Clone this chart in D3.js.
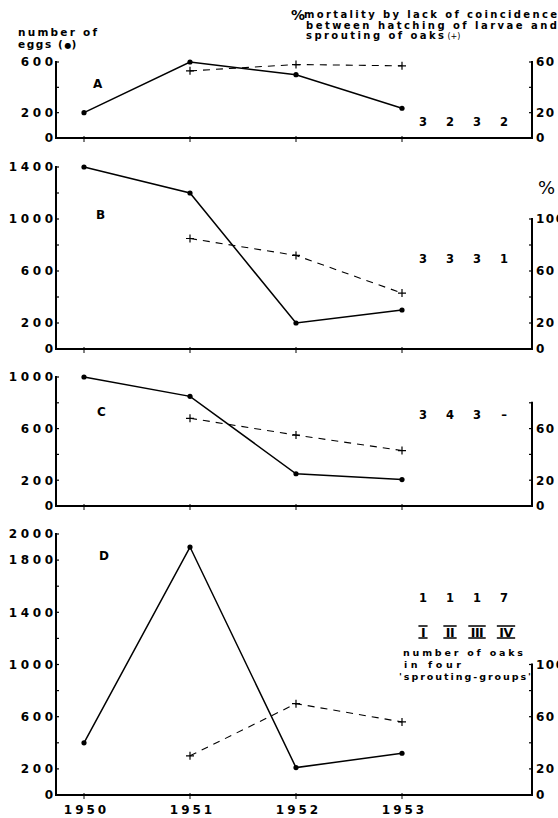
<!DOCTYPE html>
<html><head><meta charset="utf-8">
<script src="https://cdn.jsdelivr.net/npm/d3@7"></script>
<style>
body{margin:0;background:#fff}
svg{display:block}
text{fill:#000;font-family:"DejaVu Sans",sans-serif}
</style>
</head><body>
<svg id="chart" width="558" height="818"></svg>
<script>
// Years on the shared horizontal axis
const years = [1950, 1951, 1952, 1953];
// Mortality (+) was only measured from 1951 on
const mortYears = [1951, 1952, 1953];

// Number of eggs (●) per oak group
const eggsA = [200, 600, 500, 235];
const eggsB = [1400, 1200, 200, 300];
const eggsC = [1000, 850, 250, 205];
const eggsD = [400, 1900, 210, 320];

// % mortality by lack of coincidence (+)
const mortA = [53, 58, 57];
const mortB = [85, 72, 43];
const mortC = [68, 55, 43];
const mortD = [30, 70, 56];

// Number of oaks in each of the four sprouting groups
const sproutGroups = ["I", "II", "III", "IV"];
const oaksA = ["3", "2", "3", "2"];
const oaksB = ["3", "3", "3", "1"];
const oaksC = ["3", "4", "3", "\u2013"];
const oaksD = ["1", "1", "1", "7"];

// Axis extents and labelled ticks
const eggMaxA = 600,  eggLabelsA = [0, 200, 600];
const eggMaxB = 1400, eggLabelsB = [0, 200, 600, 1000, 1400];
const eggMaxC = 1000, eggLabelsC = [0, 200, 600, 1000];
const eggMaxD = 2000, eggLabelsD = [0, 200, 600, 1000, 1400, 1800, 2000];
const mortMaxA = 60,  mortLabelsA = [0, 20, 60];
const mortMaxB = 100, mortLabelsB = [0, 20, 60, 100];
const mortMaxC = 80,  mortLabelsC = [0, 20, 60];
const mortMaxD = 100, mortLabelsD = [0, 20, 60, 100];

const panels = [
  {name: "A", top: 62,  base: 138, eggMax: eggMaxA, eggLabels: eggLabelsA, mortMax: mortMaxA, mortLabels: mortLabelsA, eggs: eggsA, mort: mortA, oaks: oaksA, oaksY: 122, letter: [93, 84]},
  {name: "B", top: 167, base: 349, eggMax: eggMaxB, eggLabels: eggLabelsB, mortMax: mortMaxB, mortLabels: mortLabelsB, eggs: eggsB, mort: mortB, oaks: oaksB, oaksY: 259, letter: [96, 215]},
  {name: "C", top: 377, base: 506, eggMax: eggMaxC, eggLabels: eggLabelsC, mortMax: mortMaxC, mortLabels: mortLabelsC, eggs: eggsC, mort: mortC, oaks: oaksC, oaksY: 415, letter: [97, 412]},
  {name: "D", top: 534, base: 795, eggMax: eggMaxD, eggLabels: eggLabelsD, mortMax: mortMaxD, mortLabels: mortLabelsD, eggs: eggsD, mort: mortD, oaks: oaksD, oaksY: 598, letter: [99, 556]}
];

const svg = d3.select("#chart");
const leftX = 56, rightX = 532;
const x = d3.scaleLinear().domain([1950, 1953]).range([84, 402]);
const gx = d3.scalePoint().domain(sproutGroups).range([423, 504]);

const tickFont = 12, tickLs = 3.6;

panels.forEach(p => {
  const g = svg.append("g");
  const y = d3.scaleLinear().domain([0, p.eggMax]).range([p.base, p.top]);
  // right-hand % scale shares pixels: 10 % per 100 eggs
  const yr = d3.scaleLinear().domain([0, p.eggMax / 10]).range([p.base, p.top]);

  // left axis
  g.append("line").attr("x1", leftX).attr("x2", leftX)
    .attr("y1", p.base + 1).attr("y2", y(p.eggMax) - 1)
    .attr("stroke", "#000").attr("stroke-width", 2);
  g.selectAll(".lt").data(d3.range(200, p.eggMax + 1, 200)).join("line")
    .attr("x1", leftX).attr("x2", leftX + 3)
    .attr("y1", d => y(d)).attr("y2", d => y(d))
    .attr("stroke", "#000").attr("stroke-width", 1.2);
  g.selectAll(".ll").data(p.eggLabels).join("text")
    .attr("x", 53 + tickLs).attr("y", d => y(d)).attr("dy", "0.36em")
    .attr("text-anchor", "end").attr("font-size", tickFont).attr("font-weight", "bold")
    .attr("letter-spacing", tickLs).text(d => d);

  // right axis
  g.append("line").attr("x1", rightX).attr("x2", rightX)
    .attr("y1", p.base + 1).attr("y2", yr(p.mortMax) - 1)
    .attr("stroke", "#000").attr("stroke-width", 2);
  g.selectAll(".rt").data(d3.range(20, p.mortMax + 1, 20)).join("line")
    .attr("x1", rightX - 3).attr("x2", rightX)
    .attr("y1", d => yr(d)).attr("y2", d => yr(d))
    .attr("stroke", "#000").attr("stroke-width", 1.2);
  g.selectAll(".rl").data(p.mortLabels).join("text")
    .attr("x", 536).attr("y", d => yr(d)).attr("dy", "0.36em")
    .attr("font-size", tickFont).attr("font-weight", "bold")
    .attr("letter-spacing", 1.5).text(d => d);

  // baseline with year ticks
  g.append("line").attr("x1", leftX - 1).attr("x2", rightX + 1)
    .attr("y1", p.base).attr("y2", p.base)
    .attr("stroke", "#000").attr("stroke-width", 2);
  g.selectAll(".xt").data(years).join("line")
    .attr("x1", d => x(d)).attr("x2", d => x(d))
    .attr("y1", p.base - 2).attr("y2", p.base + 4)
    .attr("stroke", "#000").attr("stroke-width", 1);

  // mortality (+), dashed
  const mPts = mortYears.map((yr0, i) => [x(yr0), yr(p.mort[i])]);
  g.append("path").attr("d", d3.line()(mPts))
    .attr("fill", "none").attr("stroke", "#000")
    .attr("stroke-width", 1.1).attr("stroke-dasharray", "7,6");
  mPts.forEach(([px, py]) => {
    g.append("path").attr("d", `M${px - 4},${py}H${px + 4}M${px},${py - 4}V${py + 4}`)
      .attr("stroke", "#000").attr("stroke-width", 1.2);
  });

  // eggs (●), solid
  const ePts = years.map((yr0, i) => [x(yr0), y(p.eggs[i])]);
  g.append("path").attr("d", d3.line()(ePts))
    .attr("fill", "none").attr("stroke", "#000").attr("stroke-width", 1.5);
  g.selectAll(".dot").data(ePts).join("circle")
    .attr("cx", d => d[0]).attr("cy", d => d[1]).attr("r", 2.6).attr("fill", "#000");

  // panel letter
  g.append("text").attr("x", p.letter[0]).attr("y", p.letter[1]).attr("dy", "0.36em")
    .attr("font-size", 12).attr("font-weight", "bold").text(p.name);

  // oaks per sprouting group
  g.selectAll(".oak").data(p.oaks).join("text")
    .attr("x", (d, i) => gx(sproutGroups[i])).attr("y", p.oaksY).attr("dy", "0.36em")
    .attr("text-anchor", "middle").attr("font-size", 11.5).attr("font-weight", "bold")
    .text(d => d);
});

// Roman numerals of the sprouting groups, with bars above and below
const rom = svg.append("g");
sproutGroups.forEach(s => {
  const cx = gx(s) + (s === "IV" ? 2 : 0);
  const t = rom.append("text").attr("x", cx).attr("y", 632).attr("dy", "0.36em")
    .attr("text-anchor", "middle").attr("font-size", 12.5).attr("font-weight", "bold")
    .attr("letter-spacing", -0.5).text(s);
  const w = t.node().getComputedTextLength() + 5;
  rom.append("path").attr("d", `M${cx - w / 2},${626}H${cx + w / 2}M${cx - w / 2},${638}H${cx + w / 2}`)
    .attr("stroke", "#000").attr("stroke-width", 1.6);
});

// Legend text under the numerals
const note = [
  {t: "number of oaks", x: 403, y: 656, len: 120},
  {t: "in four", x: 404, y: 668, len: 57},
  {t: "'sprouting-groups'", x: 399, y: 680, len: 132}
];
svg.append("g").selectAll("text").data(note).join("text")
  .attr("x", d => d.x).attr("y", d => d.y)
  .attr("font-size", 9.5).attr("font-weight", "bold")
  .attr("textLength", d => d.len).attr("lengthAdjust", "spacing").text(d => d.t);

// Left header
svg.append("text").attr("x", 18).attr("y", 36).attr("font-size", 10.5).attr("font-weight", "bold")
  .attr("textLength", 79).attr("lengthAdjust", "spacing").text("number of");
const eg = svg.append("text").attr("x", 18).attr("y", 48).attr("font-size", 10.5).attr("font-weight", "bold");
eg.append("tspan").attr("letter-spacing", 1.6).text("eggs (");
eg.append("tspan").text("\u25CF").attr("font-size", 8);
eg.append("tspan").text(")");

// Right header
svg.append("text").attr("x", 291).attr("y", 20).attr("font-size", 14).attr("font-weight", "bold").text("%");
svg.append("text").attr("x", 304).attr("y", 18).attr("font-size", 10).attr("font-weight", "bold")
  .attr("textLength", 253).attr("lengthAdjust", "spacing").text("mortality by lack of coincidence");
svg.append("text").attr("x", 306).attr("y", 28.5).attr("font-size", 10).attr("font-weight", "bold")
  .attr("textLength", 251).attr("lengthAdjust", "spacing").text("between hatching of larvae and");
const sp = svg.append("text").attr("x", 306).attr("y", 39).attr("font-size", 10).attr("font-weight", "bold");
sp.append("tspan").attr("textLength", 138).attr("lengthAdjust", "spacing").text("sprouting of oaks");
sp.append("tspan").attr("font-weight", "normal").attr("font-size", 8).attr("dx", 1).text("(+)");

// % sign over the right axis of panel B
svg.append("text").attr("x", 538).attr("y", 194).attr("font-size", 18).text("%");

// Year labels
svg.append("g").selectAll("text").data(years).join("text")
  .attr("x", d => x(d) + 2.5).attr("y", 814)
  .attr("text-anchor", "middle").attr("font-size", 12).attr("font-weight", "bold")
  .attr("letter-spacing", 3).text(d => d);
</script>
</body></html>
